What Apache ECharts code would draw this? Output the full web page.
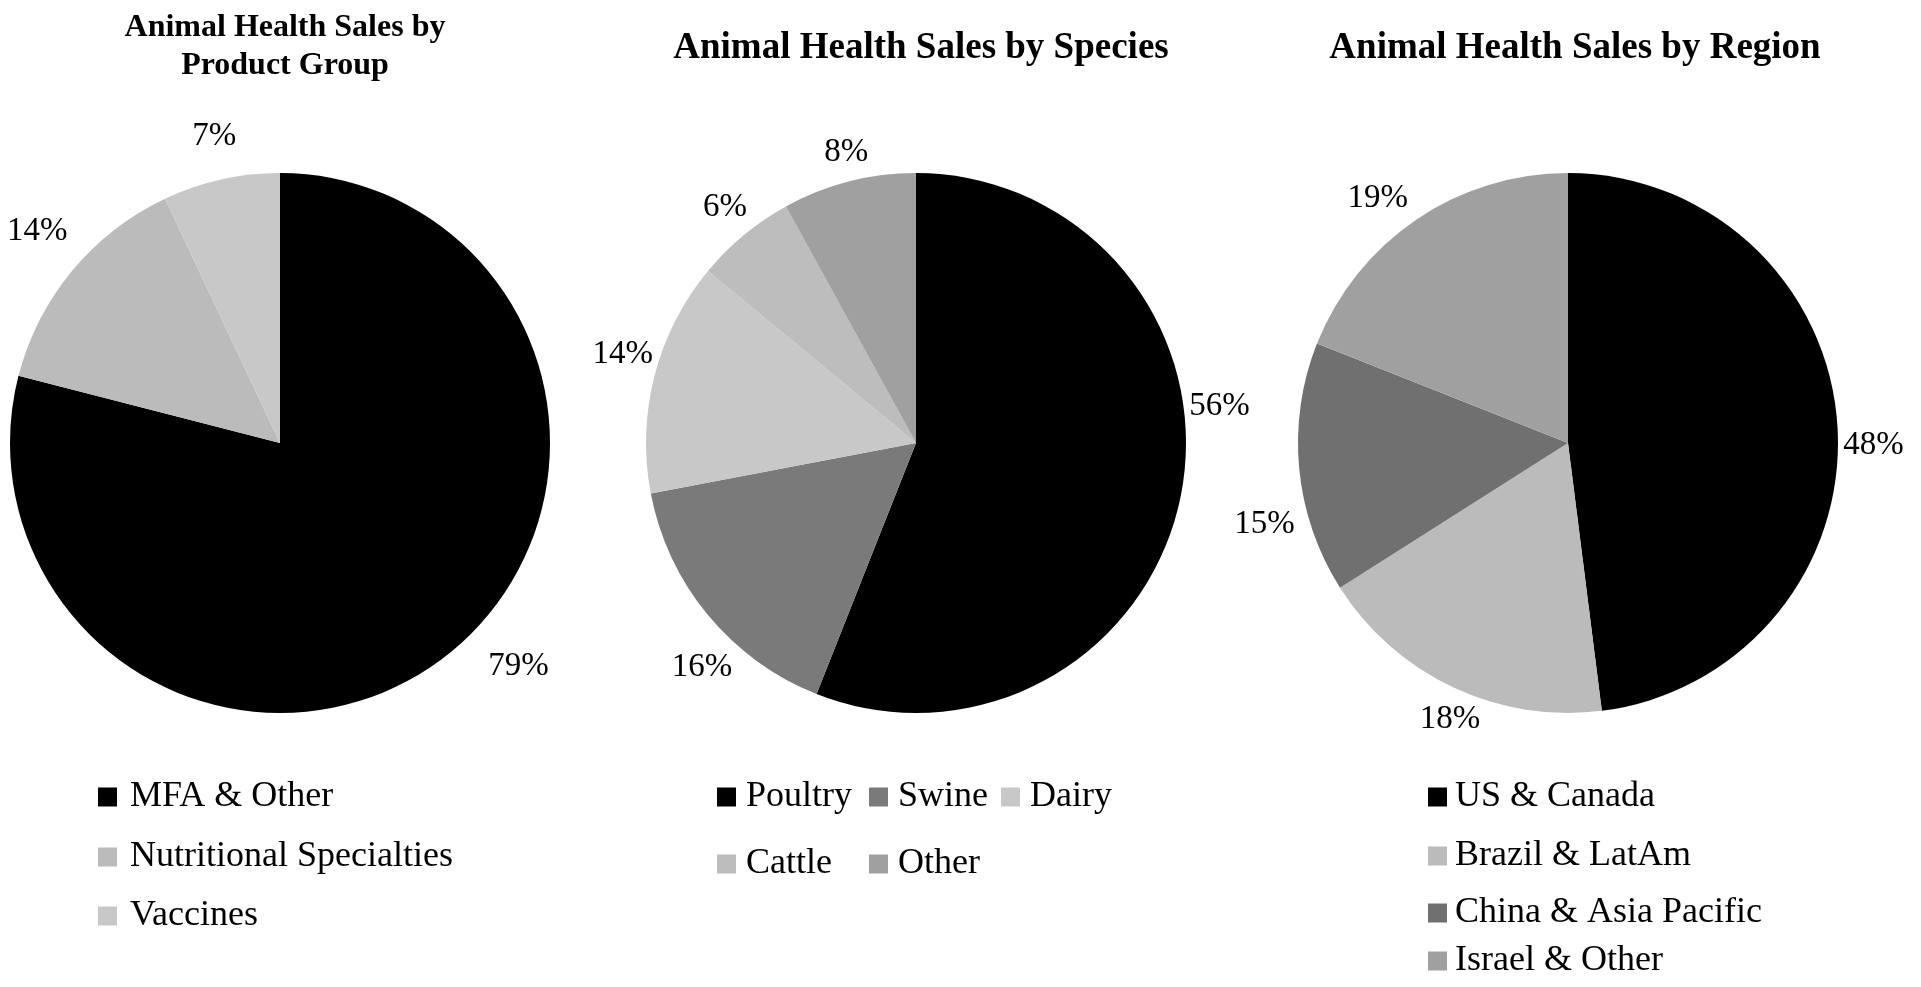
<!DOCTYPE html>
<html>
<head>
<meta charset="utf-8">
<script src="https://cdn.jsdelivr.net/npm/echarts@6/dist/echarts.min.js"></script>
<style>
html,body{margin:0;padding:0;background:#fff;}
#chart{width:1921px;height:987px;}
</style>
</head>
<body>
<div id="chart"></div>
<script>
const productCategories = ['MFA & Other', 'Nutritional Specialties', 'Vaccines'];
const productValues = [79, 14, 7];
const productColors = ['#000000', '#bbbbbb', '#c8c8c8'];

const speciesCategories = ['Poultry', 'Swine', 'Dairy', 'Cattle', 'Other'];
const speciesValues = [56, 16, 14, 6, 8];
const speciesColors = ['#000000', '#7a7a7a', '#c8c8c8', '#bdbdbd', '#a0a0a0'];

const regionCategories = ['US & Canada', 'Brazil & LatAm', 'China & Asia Pacific', 'Israel & Other'];
const regionValues = [48, 18, 15, 19];
const regionColors = ['#000000', '#bbbbbb', '#707070', '#a0a0a0'];

const titles = ['Animal Health Sales by\nProduct Group', 'Animal Health Sales by Species', 'Animal Health Sales by Region'];

const FONT = '"Liberation Serif", "Times New Roman", serif';
const R = 270;

const chart = echarts.init(document.getElementById('chart'), null, {renderer: 'canvas'});

function mkData(cats, vals, colors) {
  return cats.map((c, i) => ({name: c, value: vals[i], itemStyle: {color: colors[i]}}));
}

function mainPie(cats, vals, colors, center) {
  return {
    type: 'pie', center: center, radius: [0, R], startAngle: 90, clockwise: true,
    avoidLabelOverlap: false, silent: true,
    label: {show: false}, labelLine: {show: false},
    itemStyle: {borderWidth: 0},
    emphasis: {disabled: true},
    data: mkData(cats, vals, colors)
  };
}

// label nudges mimic Excel's "best fit" label placement (style only)
function labelPie(cats, vals, center, outer, nudges) {
  return {
    type: 'pie', center: center, radius: [R, outer], startAngle: 90, clockwise: true,
    avoidLabelOverlap: false, silent: true, legendHoverLink: false,
    itemStyle: {color: 'rgba(0,0,0,0)', borderWidth: 0},
    label: {show: true, position: 'inside', formatter: '{c}%', color: '#000', fontFamily: FONT, fontSize: 33},
    labelLine: {show: false},
    labelLayout: {hideOverlap: false},
    emphasis: {disabled: true},
    data: cats.map((c, i) => ({name: c + ' ', value: vals[i], label: {offset: nudges[i]}}))
  };
}

function legendItem(name, left, cy, pad) {
  return {
    data: [name], left: left, top: cy - 20, orient: 'vertical',
    icon: 'rect', itemWidth: 19, itemHeight: 19, selectedMode: false,
    textStyle: {fontFamily: FONT, fontSize: 36, color: '#000', lineHeight: 40, padding: [0, 0, 0, pad]},
    padding: 0
  };
}

const legends = [];
const productLegendPos = [[98, 797], [98, 857], [98, 916]];
productCategories.forEach((c, i) => legends.push(legendItem(c, productLegendPos[i][0], productLegendPos[i][1], 8)));
const speciesLegendPos = [[717, 797], [869, 797], [1001, 797], [717, 864], [869, 864]];
speciesCategories.forEach((c, i) => legends.push(legendItem(c, speciesLegendPos[i][0], speciesLegendPos[i][1], 5)));
const regionLegendPos = [[1428, 797], [1428, 856], [1428, 913], [1428, 961]];
regionCategories.forEach((c, i) => legends.push(legendItem(c, regionLegendPos[i][0], regionLegendPos[i][1], 3)));

const centers = [[280, 443], [916, 443], [1568, 443]];

const option = {
  backgroundColor: '#ffffff',
  animation: false,
  title: [
    {text: titles[0], left: 280, top: 4, textAlign: 'center',
     textStyle: {fontFamily: FONT, fontWeight: 'bold', fontSize: 32, color: '#000', lineHeight: 38}},
    {text: titles[1], left: 916, top: 22, textAlign: 'center',
     textStyle: {fontFamily: FONT, fontWeight: 'bold', fontSize: 37, color: '#000', lineHeight: 42}},
    {text: titles[2], left: 1570, top: 22, textAlign: 'center',
     textStyle: {fontFamily: FONT, fontWeight: 'bold', fontSize: 37, color: '#000', lineHeight: 42}}
  ],
  legend: legends,
  series: [
    mainPie(productCategories, productValues, productColors, centers[0]),
    mainPie(speciesCategories, speciesValues, speciesColors, centers[1]),
    mainPie(regionCategories, regionValues, regionColors, centers[2]),
    labelPie(productCategories, productValues, centers[0], 372, [[40, -33], [7, -5], [5, 10]]),
    labelPie(speciesCategories, speciesValues, centers[1], 342, [[0, -95], [24, 27], [6, -12], [6, 2], [7, 9]]),
    labelPie(regionCategories, regionValues, centers[2], 344, [[-4, 22], [14, -4], [5, 52], [-16, 12]])
  ]
};
chart.setOption(option);
</script>
</body>
</html>
